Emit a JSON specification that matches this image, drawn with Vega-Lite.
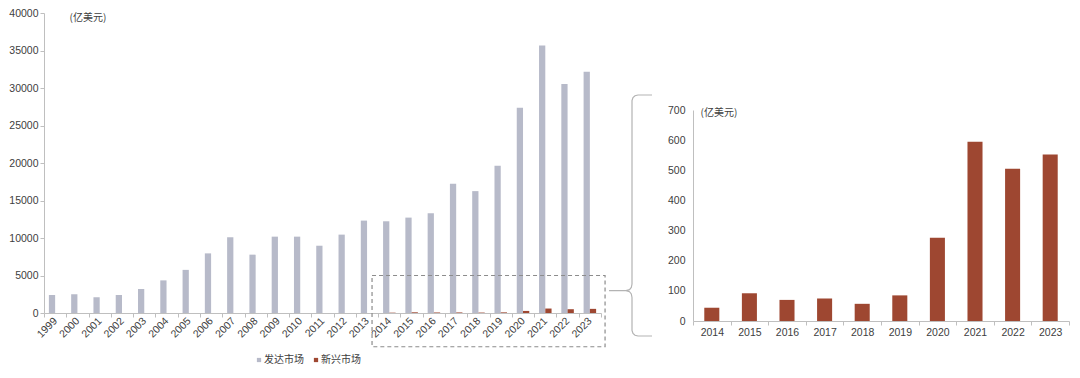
{
  "$schema": "https://vega.github.io/schema/vega-lite/v6.json",
  "padding": {"left": 8, "top": 8, "right": 4, "bottom": 2},
  "background": "white",
  "spacing": 0,
  "config": {
    "view": {"stroke": null},
    "font": "Liberation Sans, Noto Sans CJK SC",
    "concat": {"spacing": 0},
    "axis": {
      "labelFont": "Liberation Sans, Noto Sans CJK SC",
      "labelColor": "#404040",
      "labelFontSize": 10.5,
      "labelOverlap": false,
      "domainColor": "#bfbfbf",
      "tickColor": "#bfbfbf",
      "grid": false,
      "titleFont": "Noto Sans CJK SC",
      "titleFontSize": 10,
      "titleFontWeight": "normal",
      "titleColor": "#404040"
    }
  },
  "datasets": {
    "main": [
      {"year": "1999", "market": "发达市场", "value": 2400},
      {"year": "2000", "market": "发达市场", "value": 2500},
      {"year": "2001", "market": "发达市场", "value": 2100},
      {"year": "2002", "market": "发达市场", "value": 2400},
      {"year": "2003", "market": "发达市场", "value": 3200},
      {"year": "2004", "market": "发达市场", "value": 4350},
      {"year": "2005", "market": "发达市场", "value": 5750},
      {"year": "2006", "market": "发达市场", "value": 7950},
      {"year": "2007", "market": "发达市场", "value": 10100},
      {"year": "2008", "market": "发达市场", "value": 7780},
      {"year": "2009", "market": "发达市场", "value": 10180},
      {"year": "2010", "market": "发达市场", "value": 10180},
      {"year": "2011", "market": "发达市场", "value": 8970},
      {"year": "2012", "market": "发达市场", "value": 10450},
      {"year": "2013", "market": "发达市场", "value": 12320},
      {"year": "2014", "market": "发达市场", "value": 12230},
      {"year": "2015", "market": "发达市场", "value": 12720},
      {"year": "2016", "market": "发达市场", "value": 13300},
      {"year": "2017", "market": "发达市场", "value": 17250},
      {"year": "2018", "market": "发达市场", "value": 16250},
      {"year": "2019", "market": "发达市场", "value": 19640},
      {"year": "2020", "market": "发达市场", "value": 27380},
      {"year": "2021", "market": "发达市场", "value": 35680},
      {"year": "2022", "market": "发达市场", "value": 30550},
      {"year": "2023", "market": "发达市场", "value": 32170},
      {"year": "2014", "market": "新兴市场", "value": 44},
      {"year": "2015", "market": "新兴市场", "value": 92},
      {"year": "2016", "market": "新兴市场", "value": 70},
      {"year": "2017", "market": "新兴市场", "value": 75},
      {"year": "2018", "market": "新兴市场", "value": 57},
      {"year": "2019", "market": "新兴市场", "value": 85},
      {"year": "2020", "market": "新兴市场", "value": 276},
      {"year": "2021", "market": "新兴市场", "value": 595},
      {"year": "2022", "market": "新兴市场", "value": 505},
      {"year": "2023", "market": "新兴市场", "value": 552}
    ]
  },
  "hconcat": [
    {
      "width": 557,
      "height": 300,
      "layer": [
        {
          "data": {"name": "main"},
          "mark": {"type": "bar"},
          "encoding": {
            "x": {
              "field": "year", "type": "nominal",
              "scale": {"paddingInner": 0, "paddingOuter": 0},
              "axis": {"title": null, "labelAngle": -45, "labelAlign": "right", "labelBaseline": "middle", "tickBand": "extent", "tickSize": 4, "labelPadding": 2}
            },
            "xOffset": {
              "field": "market", "type": "nominal",
              "scale": {"domain": ["发达市场", "新兴市场"], "paddingInner": 0, "paddingOuter": 0.78}
            },
            "y": {
              "field": "value", "type": "quantitative",
              "scale": {"domain": [0, 40000], "nice": false},
              "axis": {"title": "(亿美元)", "format": "d", "tickCount": 12, "titleAngle": 0, "titleX": 25, "titleY": 4, "titleAlign": "left", "titleBaseline": "middle", "values": [0, 5000, 10000, 15000, 20000, 25000, 30000, 35000, 40000], "tickSize": 4, "labelPadding": 2}
            },
            "color": {
              "field": "market", "type": "nominal",
              "scale": {"domain": ["发达市场", "新兴市场"], "range": ["#B7BAC9", "#9E4731"]},
              "legend": {"title": null, "orient": "none", "legendX": 210, "legendY": 342, "direction": "horizontal", "symbolType": "square", "symbolSize": 18, "labelFontSize": 10, "labelFont": "Noto Sans CJK SC", "labelColor": "#404040", "columnPadding": 7, "labelOffset": 0, "symbolStrokeWidth": 0}
            }
          }
        },
        {
          "data": {"values": [{"year": "2014", "year2": "2023", "top": 5000, "bottom": -4500}]},
          "mark": {"type": "rect", "fillOpacity": 0, "stroke": "#8c8c8c", "strokeDash": [4, 3], "strokeWidth": 1.2, "xOffset": -17.3, "x2Offset": 15.2},
          "encoding": {
            "x": {"field": "year", "type": "nominal"},
            "x2": {"field": "year2"},
            "y": {"field": "top", "type": "quantitative"},
            "y2": {"field": "bottom"}
          }
        }
      ]
    },
    {
      "width": 60,
      "height": 325,
      "data": {"values": [
        {"i": 1, "bx": 44, "by": 243},
        {"i": 2, "bx": 30, "by": 243},
        {"i": 3, "bx": 27, "by": 242.3},
        {"i": 4, "bx": 25, "by": 240.5},
        {"i": 5, "bx": 24, "by": 237.5},
        {"i": 6, "bx": 24, "by": 54},
        {"i": 7, "bx": 23.3, "by": 50.5},
        {"i": 8, "bx": 21.5, "by": 48.3},
        {"i": 9, "bx": 18, "by": 47.3},
        {"i": 10, "bx": 1, "by": 47.3},
        {"i": 11, "bx": 18, "by": 47.3},
        {"i": 12, "bx": 21.5, "by": 46.3},
        {"i": 13, "bx": 23.3, "by": 44},
        {"i": 14, "bx": 24, "by": 40.5},
        {"i": 15, "bx": 24, "by": 7.5},
        {"i": 16, "bx": 25, "by": 4.5},
        {"i": 17, "bx": 27, "by": 2.7},
        {"i": 18, "bx": 30, "by": 2},
        {"i": 19, "bx": 44, "by": 2}
      ]},
      "mark": {"type": "line", "color": "#b3b3b3", "strokeWidth": 1.2, "interpolate": "linear"},
      "encoding": {
        "x": {"field": "bx", "type": "quantitative", "scale": {"domain": [-1, 59], "nice": false, "zero": false}, "axis": null},
        "y": {"field": "by", "type": "quantitative", "scale": {"domain": [0, 325], "nice": false, "zero": false}, "axis": null},
        "order": {"field": "i", "type": "quantitative"}
      }
    },
    {
      "spacing": 0,
      "vconcat": [
        {
          "width": 376,
          "height": 92,
          "data": {"values": [{}]},
          "mark": {"type": "rule", "strokeOpacity": 0},
          "encoding": {}
        },
        {
          "width": 376,
          "height": 211,
          "data": {"name": "main"},
          "transform": [{"filter": "datum.market === '新兴市场'"}],
          "mark": {"type": "bar", "color": "#9E4731", "width": {"band": 0.4}},
          "encoding": {
            "x": {
              "field": "year", "type": "nominal",
              "scale": {"paddingInner": 0, "paddingOuter": 0},
              "axis": {"title": null, "labelAngle": 0, "tickBand": "extent", "tickSize": 4, "labelPadding": 2}
            },
            "y": {
              "field": "value", "type": "quantitative",
              "scale": {"domain": [0, 700], "nice": false},
              "axis": {"title": "(亿美元)", "titleAngle": 0, "titleX": 7, "titleY": 2, "titleAlign": "left", "titleBaseline": "middle", "tickCount": 10, "values": [0, 100, 200, 300, 400, 500, 600, 700], "ticks": false, "tickSize": 0, "labelPadding": 8}
            }
          }
        }
      ]
    }
  ]
}
